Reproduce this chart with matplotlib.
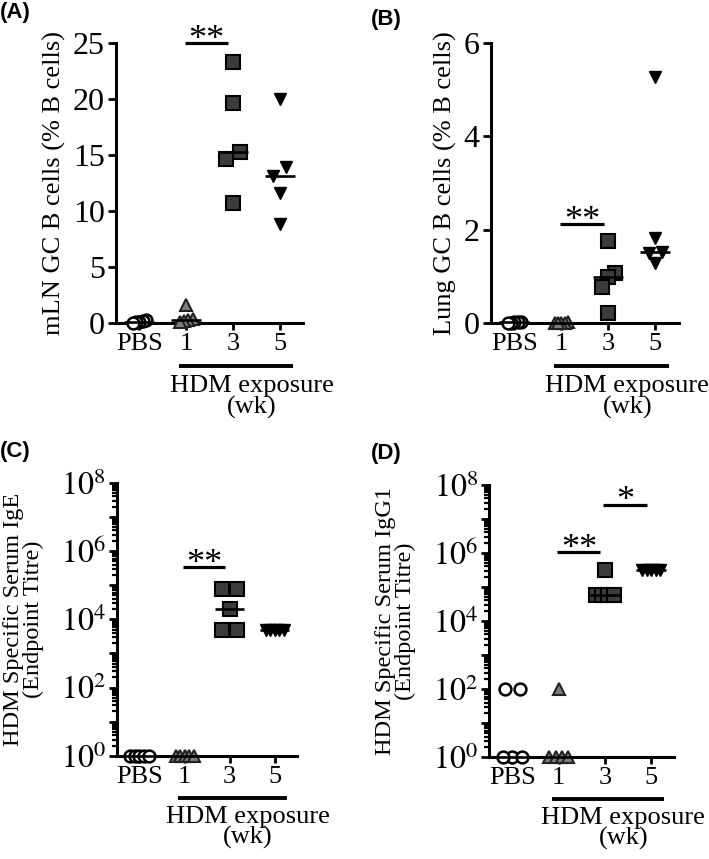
import numpy as np
import matplotlib
matplotlib.use('Agg')
import matplotlib.pyplot as plt
import matplotlib.transforms as mtransforms
from matplotlib.ticker import LogLocator, FixedLocator, NullFormatter

plt.rcParams['font.family'] = ['Liberation Serif', 'DejaVu Serif']
plt.rcParams['mathtext.fontset'] = 'stix'

groups = ['PBS', '1', '3', '5']

# (A) mLN GC B cells (% B cells)
mln_pbs = [0.3, 0.2, 0.1, 0.05, 0.0]
mln_wk1 = [1.6, 0.4, 0.3, 0.2, 0.1]
mln_wk3 = [23.3, 19.6, 15.3, 14.6, 10.7]
mln_wk5 = [20.0, 13.9, 13.1, 11.6, 8.8]

# (B) Lung GC B cells (% B cells)
lung_pbs = [0.03, 0.02, 0.02, 0.01, 0.0]
lung_wk1 = [0.02, 0.01, 0.01, 0.0, 0.0]
lung_wk3 = [1.75, 1.07, 0.98, 0.78, 0.21]
lung_wk5 = [5.27, 1.82, 1.53, 1.50, 1.28]

# (C) HDM specific serum IgE endpoint titre
ige_pbs = [1, 1, 1, 1, 1]
ige_wk1 = [1, 1, 1, 1, 1]
ige_wk3 = [78000, 78000, 20000, 5000, 5000]
ige_wk5 = [5000, 5000, 5000, 5000, 5000]

# (D) HDM specific serum IgG1 endpoint titre
igg1_pbs = [100, 100, 1, 1, 1]
igg1_wk1 = [100, 1, 1, 1, 1]
igg1_wk3 = [320000, 57000, 57000, 57000, 57000]
igg1_wk5 = [320000, 320000, 320000, 320000, 320000]

# significance bars: (from group, to group, height, label)
sig_a = [(1, 2, 25, '**')]
sig_b = [(1, 2, 2.12, '**')]
sig_c = [(1, 2, 3.4e5, '**')]
sig_d = [(1, 2, 1.05e6, '**'), (2, 3, 2.6e7, '*')]

styles = [
    dict(marker='o', mfc='white', mec='black', ms=8.5, mew=1.8),
    dict(marker='^', mfc='#7d7d7d', mec='#222222', ms=9, mew=1.5),
    dict(marker='s', mfc='#3c3c3c', mec='black', ms=9.5, mew=1.5),
    dict(marker='v', mfc='black', mec='black', ms=9, mew=1.0),
]


def swarm(vals, span, log, thr=0.035):
    # spread points that would overlap, like a GraphPad scatter
    v = np.array(vals, dtype=float)
    f = np.log10(v) if log else v
    f = f / span
    order = np.argsort(f)
    offs = np.zeros(len(v))
    clusters = [[order[0]]]
    for a, b in zip(order[:-1], order[1:]):
        if f[b] - f[a] < thr:
            clusters[-1].append(b)
        else:
            clusters.append([b])
    width = 0.4 if log else 0.28
    for c in clusters:
        n = len(c)
        if n > 1:
            step = min(0.32, width / (n - 1))
            for i, idx in enumerate(c):
                offs[idx] = (i - (n - 1) / 2) * step
    return offs


def panel(rect, data, ylabel, sig, log, letter, lpos, yticks=None, ylim=None):
    ax = fig.add_axes(rect)
    if log:
        ax.set_yscale('log')
        ax.set_ylim(1, 1e8)
        span = 8
    else:
        ax.set_ylim(*ylim)
        ax.set_yticks(yticks)
        span = ylim[1] - ylim[0]
    ax.set_xlim(-0.5, 3.5)
    for i, vals in enumerate(data):
        offs = swarm(vals, span, log)
        ax.plot(i + offs, vals, ls='none', clip_on=False, zorder=4, **styles[i])
        ax.plot([i - 0.32, i + 0.32], [np.median(vals)] * 2, color='black',
                lw=1.9, solid_capstyle='butt', zorder=5, clip_on=False)
    for x1, x2, y, lab in sig:
        ax.plot([x1 - 0.03, x2 - 0.1], [y, y], color='black', lw=2.3,
                solid_capstyle='butt', clip_on=False)
        ax.annotate(lab, ((x1 + x2) / 2 - 0.06, y), xytext=(0, -4),
                    textcoords='offset points', ha='center', va='baseline',
                    fontsize=26, annotation_clip=False)
    for s in ['top', 'right']:
        ax.spines[s].set_visible(False)
    for s in ['left', 'bottom']:
        ax.spines[s].set_linewidth(2.2)
    ax.set_xticks(range(len(groups)))
    ax.set_xticklabels(groups, fontsize=19)
    ax.tick_params(axis='x', length=5, width=2, pad=2)
    ax.tick_params(axis='y', which='major', length=6, width=2, pad=2, labelsize=23)
    if log:
        ax.yaxis.set_major_locator(FixedLocator([10.0 ** k for k in range(9)]))
        ax.set_yticklabels(['$10^{%d}$' % k if k % 2 == 0 else '' for k in range(9)],
                           fontsize=23)
        ax.yaxis.set_minor_locator(LogLocator(base=10, subs=np.arange(2, 10), numticks=20))
        ax.yaxis.set_minor_formatter(NullFormatter())
        ax.tick_params(axis='y', which='minor', length=3.5, width=1.6)
        ax.set_ylabel(ylabel, fontsize=17.5, labelpad=12, linespacing=0.95)
    else:
        ax.set_ylabel(ylabel, fontsize=19, labelpad=5)
    tr = mtransforms.blended_transform_factory(ax.transData, ax.transAxes)
    ax.plot([0.85, 3.28], [-0.155, -0.155], color='black', lw=2.8,
            transform=tr, clip_on=False, solid_capstyle='butt')
    ax.text(2.4, -0.225, 'HDM exposure', transform=tr, ha='center',
            va='center', fontsize=19)
    ax.text(2.4, -0.30, '(wk)', transform=tr, ha='center', va='center',
            fontsize=19)
    fig.text(lpos[0], lpos[1], letter, fontsize=16, fontweight='bold',
             family='Liberation Sans', va='top', ha='left')
    return ax


fig = plt.figure(figsize=(7.09, 8.59), dpi=100)

panel([0.1636, 0.624, 0.264, 0.326], [mln_pbs, mln_wk1, mln_wk3, mln_wk5],
      'mLN GC B cells (% B cells)', sig_a, False, '(A)', (0.0, 0.998),
      yticks=[0, 5, 10, 15, 20, 25], ylim=(0, 25))
panel([0.6925, 0.624, 0.265, 0.326], [lung_pbs, lung_wk1, lung_wk3, lung_wk5],
      'Lung GC B cells (% B cells)', sig_b, False, '(B)', (0.523, 0.990),
      yticks=[0, 2, 4, 6], ylim=(0, 6))
panel([0.165, 0.120, 0.254, 0.318], [ige_pbs, ige_wk1, ige_wk3, ige_wk5],
      'HDM Specific Serum IgE\n(Endpoint Titre)', sig_c, True, '(C)', (0.0, 0.487))
panel([0.690, 0.1187, 0.261, 0.317], [igg1_pbs, igg1_wk1, igg1_wk3, igg1_wk5],
      'HDM Specific Serum IgG1\n(Endpoint Titre)', sig_d, True, '(D)', (0.523, 0.484))

fig.savefig('out.png', dpi=100)
